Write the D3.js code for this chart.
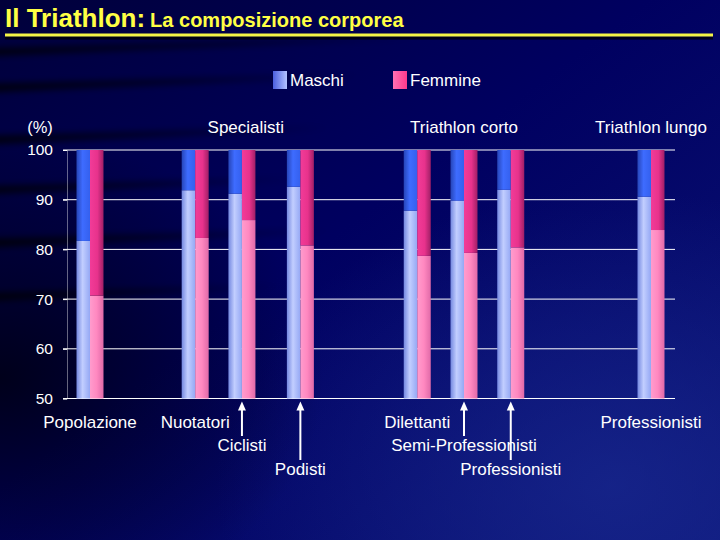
<!DOCTYPE html>
<html>
<head>
<meta charset="utf-8">
<script src="https://cdn.jsdelivr.net/npm/d3@7"></script>
<style>
  html, body { margin: 0; padding: 0; background: #000050; }
  svg { display: block; }
</style>
</head>
<body>
<div id="chart"></div>
<script>
// valori (% di massa magra, il resto fino a 100 e' grasso)
var categories = ['Popolazione', 'Nuotatori', 'Ciclisti', 'Podisti', 'Dilettanti', 'Semi-Professionisti', 'Professionisti', 'Professionisti'];
var groups = ['', 'Specialisti', 'Specialisti', 'Specialisti', 'Triathlon corto', 'Triathlon corto', 'Triathlon corto', 'Triathlon lungo'];
var maschi = [81.7, 91.9, 91.2, 92.6, 87.8, 89.8, 92.0, 90.6];
var femmine = [70.7, 82.3, 85.9, 80.8, 78.7, 79.3, 80.4, 83.9];
var seriesNames = ['Maschi', 'Femmine'];
var yTicks = [50, 60, 70, 80, 90, 100];

var width = 720;
var height = 540;
var font = "'Liberation Sans', Arial, sans-serif";

// layout: posizione (in slot) di ogni coppia di barre e riga dell'etichetta
var slotOf = [0, 9, 13, 18, 28, 32, 36, 48];
var labelRow = [0, 0, 1, 2, 0, 1, 2, 0];
var rowY = [428, 451, 475];
var barW = 13.5;

var x = d3.scaleLinear().domain([0, 48]).range([90, 651]);
var y = d3.scaleLinear().domain([50, 100]).range([398.5, 150]);

var svg = d3.select('#chart').append('svg')
    .attr('width', width)
    .attr('height', height);

var defs = svg.append('defs');

function hGrad(id, stops) {
    var g = defs.append('linearGradient').attr('id', id)
        .attr('x1', '0%').attr('x2', '100%').attr('y1', '0%').attr('y2', '0%');
    stops.forEach(function (s) {
        g.append('stop').attr('offset', s[0]).attr('stop-color', s[1]).attr('stop-opacity', s[2] == null ? 1 : s[2]);
    });
}

// sfondo
var bg = defs.append('linearGradient').attr('id', 'bg')
    .attr('x1', '0%').attr('y1', '0%').attr('x2', '100%').attr('y2', '100%');
bg.append('stop').attr('offset', '0%').attr('stop-color', '#00003a');
bg.append('stop').attr('offset', '45%').attr('stop-color', '#000060');
bg.append('stop').attr('offset', '100%').attr('stop-color', '#0c167a');

var glow = defs.append('radialGradient').attr('id', 'glow')
    .attr('cx', '85%').attr('cy', '90%').attr('r', '55%');
glow.append('stop').attr('offset', '0%').attr('stop-color', '#1a2a90').attr('stop-opacity', 0.7);
glow.append('stop').attr('offset', '100%').attr('stop-color', '#1a2a90').attr('stop-opacity', 0);

var dark = defs.append('radialGradient').attr('id', 'dark')
    .attr('cx', '0%').attr('cy', '70%').attr('r', '45%');
dark.append('stop').attr('offset', '0%').attr('stop-color', '#000010').attr('stop-opacity', 0.85);
dark.append('stop').attr('offset', '100%').attr('stop-color', '#000010').attr('stop-opacity', 0);

hGrad('streak', [['0%', '#000000', 0.75], ['55%', '#000000', 0.4], ['100%', '#000000', 0]]);
defs.append('filter').attr('id', 'blur').attr('x', '-10%').attr('y', '-50%').attr('width', '120%').attr('height', '200%')
    .append('feGaussianBlur').attr('stdDeviation', 3);

svg.append('rect').attr('width', width).attr('height', height).attr('fill', 'url(#bg)');
svg.append('rect').attr('width', width).attr('height', height).attr('fill', 'url(#glow)');
svg.append('rect').attr('width', width).attr('height', height).attr('fill', 'url(#dark)');

// strisce scure sul lato sinistro
var streaks = [[52, 8, 420], [88, 9, 360], [140, 9, 330], [190, 8, 300], [243, 9, 330], [297, 8, 280]];
svg.append('g').attr('filter', 'url(#blur)')
    .selectAll('path').data(streaks).join('path')
    .attr('fill', 'url(#streak)')
    .attr('d', function (d) {
        var y0 = d[0], h = d[1], len = d[2];
        return 'M-10,' + (y0 - h / 2) + 'L' + len + ',' + (y0 - h / 2 - len * 0.03) +
            'L' + len + ',' + (y0 - len * 0.03) + 'L-10,' + (y0 + h / 2) + 'Z';
    });

// gradienti delle barre
hGrad('mLight', [['0%', '#7488e0'], ['45%', '#c2ceff'], ['100%', '#95a8f4']]);
hGrad('mDark', [['0%', '#2645b8'], ['45%', '#3e6cff'], ['100%', '#3460ee']]);
hGrad('fLight', [['0%', '#ff9ccd'], ['50%', '#ff88c0'], ['100%', '#e06aa8']]);
hGrad('fDark', [['0%', '#f23c98'], ['55%', '#e8328c'], ['100%', '#a01f66']]);
hGrad('legM', [['0%', '#4a5ee0'], ['100%', '#b4c2ff']]);
hGrad('legF', [['0%', '#ff70b4'], ['100%', '#ff3a8c']]);

// titolo
var title = svg.append('text')
    .attr('x', 5).attr('y', 27)
    .attr('font-family', font).attr('font-weight', 'bold')
    .attr('fill', '#ffff44');
title.append('tspan').attr('font-size', 26).text('Il Triathlon:');
title.append('tspan').attr('font-size', 20).attr('dx', 5).text('La composizione corporea');

svg.append('rect').attr('x', 5).attr('y', 36.5).attr('width', 708).attr('height', 3)
    .attr('fill', '#000000').attr('opacity', 0.7);
svg.append('rect').attr('x', 5).attr('y', 33.5).attr('width', 708).attr('height', 3)
    .attr('fill', '#f4f446');

// griglia
svg.append('g')
    .selectAll('line').data(yTicks).join('line')
    .attr('x1', 63).attr('x2', 675)
    .attr('y1', function (d) { return y(d); })
    .attr('y2', function (d) { return y(d); })
    .attr('stroke', '#ffffff').attr('stroke-width', 1);

// asse y
var yAxis = svg.append('g')
    .attr('transform', 'translate(67,0)')
    .call(d3.axisLeft(y).tickValues(yTicks).tickSize(4).tickPadding(10));
yAxis.select('.domain').attr('stroke', '#ffffff').attr('stroke-opacity', 0.4);
yAxis.selectAll('.tick line').attr('stroke', '#ffffff');
yAxis.selectAll('.tick text')
    .attr('fill', '#ffffff').attr('font-family', font).attr('font-size', 15.5);

svg.append('text')
    .attr('x', 40).attr('y', 133).attr('text-anchor', 'middle')
    .attr('fill', '#ffffff').attr('font-family', font).attr('font-size', 16.5)
    .text('(%)');

// barre impilate: parte chiara fino al valore, parte scura fino a 100
var idx = d3.range(categories.length);
var bars = svg.append('g');

function drawSeries(values, offset, light, darkFill) {
    bars.append('g').selectAll('rect').data(idx).join('rect')
        .attr('x', function (i) { return x(slotOf[i]) + offset; })
        .attr('width', barW)
        .attr('y', function (i) { return y(values[i]); })
        .attr('height', function (i) { return y(50) - y(values[i]); })
        .attr('fill', 'url(#' + light + ')');
    bars.append('g').selectAll('rect').data(idx).join('rect')
        .attr('x', function (i) { return x(slotOf[i]) + offset; })
        .attr('width', barW)
        .attr('y', y(100))
        .attr('height', function (i) { return y(values[i]) - y(100); })
        .attr('fill', 'url(#' + darkFill + ')');
}
drawSeries(maschi, -barW, 'mLight', 'mDark');
drawSeries(femmine, 0, 'fLight', 'fDark');

// legenda
var legend = svg.append('g');
var legX = [273, 393];
seriesNames.forEach(function (name, i) {
    legend.append('rect')
        .attr('x', legX[i]).attr('y', 71).attr('width', 14).attr('height', 18)
        .attr('fill', i === 0 ? 'url(#legM)' : 'url(#legF)');
    legend.append('text')
        .attr('x', legX[i] + 17).attr('y', 86)
        .attr('fill', '#ffffff').attr('font-family', font).attr('font-size', 17)
        .text(name);
});

// intestazioni dei gruppi
var groupNames = Array.from(new Set(groups.filter(function (g) { return g; })));
svg.append('g').selectAll('text').data(groupNames).join('text')
    .attr('x', function (g) {
        return d3.mean(idx.filter(function (i) { return groups[i] === g; }), function (i) { return x(slotOf[i]); });
    })
    .attr('y', 133)
    .attr('text-anchor', 'middle')
    .attr('fill', '#ffffff').attr('font-family', font).attr('font-size', 17)
    .text(function (g) { return g; });

// etichette delle categorie con frecce
var labels = svg.append('g');
labels.selectAll('text').data(idx).join('text')
    .attr('x', function (i) { return x(slotOf[i]); })
    .attr('y', function (i) { return rowY[labelRow[i]]; })
    .attr('text-anchor', 'middle')
    .attr('fill', '#ffffff').attr('font-family', font).attr('font-size', 17)
    .text(function (i) { return categories[i]; });

var arrowed = idx.filter(function (i) { return labelRow[i] > 0; });
labels.selectAll('line').data(arrowed).join('line')
    .attr('x1', function (i) { return x(slotOf[i]); })
    .attr('x2', function (i) { return x(slotOf[i]); })
    .attr('y1', function (i) { return rowY[labelRow[i]] - 15; })
    .attr('y2', y(50) + 9)
    .attr('stroke', '#ffffff').attr('stroke-width', 2);
labels.selectAll('path').data(arrowed).join('path')
    .attr('fill', '#ffffff')
    .attr('d', function (i) {
        var cx = x(slotOf[i]), tip = y(50) + 3;
        return 'M' + (cx - 4) + ',' + (tip + 9) + 'L' + cx + ',' + tip + 'L' + (cx + 4) + ',' + (tip + 9) + 'Z';
    });
</script>
</body>
</html>
